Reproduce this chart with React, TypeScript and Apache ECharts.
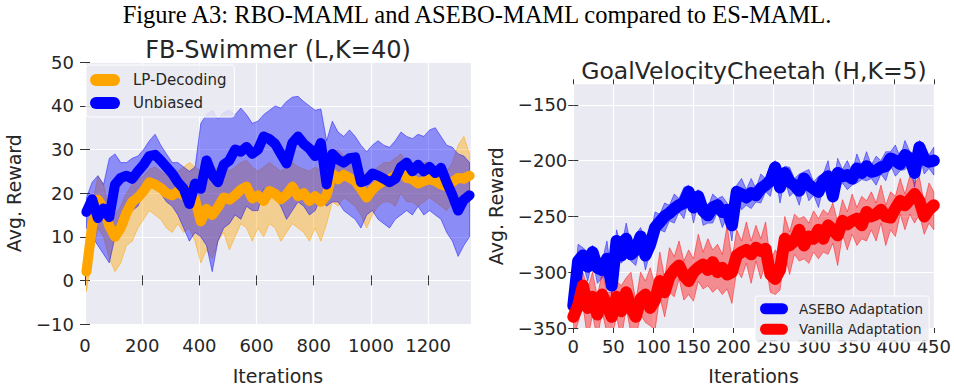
import React, { useEffect, useRef } from 'react';
import * as echarts from 'echarts';

// ---------- FB-Swimmer (L,K=40) ----------
// sampling grid of iterations (every 20 iterations starting at 5)
const swimIterations: number[] = [
  5, 25, 45, 65, 85, 105, 125, 145, 165, 185, 205, 225, 245, 265, 285, 305, 325, 345, 365, 385,
  405, 425, 445, 465, 485, 505, 525, 545, 565, 585, 605, 625, 645, 665, 685, 705, 725, 745, 765, 785,
  805, 825, 845, 865, 885, 905, 925, 945, 965, 985, 1005, 1025, 1045, 1065, 1085, 1105, 1125, 1145, 1165, 1185,
  1205, 1225, 1245, 1265, 1285, 1305, 1325, 1345,
];
const unbiasedMean: number[] = [
  15.7, 18.6, 14.3, 16.5, 14.5, 22, 23.5, 24, 23.3, 25,
  26.5, 28.5, 28.8, 27.5, 26, 24.5, 22.5, 21, 17.5, 22.2,
  21, 27.5, 24.2, 22.5, 26.5, 27.5, 30, 29.5, 30.6, 29,
  30, 33, 32.4, 31.3, 29, 26.8, 31.5, 33, 31.3, 30.2,
  28.5, 31.5, 22, 29, 27.7, 27, 28, 28.2, 22.5, 23,
  24.5, 24, 23.3, 22.5, 23.3, 26, 27, 25, 26.5, 25,
  26, 24.6, 25.8, 22.5, 19.5, 16, 18.5, 19.5,
];
const unbiasedUpper: number[] = [
  19, 22.5, 24, 22, 28, 29, 27, 27, 28, 28.5,
  30, 32, 33.5, 31, 29, 27, 27, 26, 25, 26,
  36, 38, 39, 37, 38.5, 39, 38, 39.5, 38, 36,
  36.5, 38, 39, 40, 39.5, 41, 42, 42.2, 41, 40,
  39, 39.3, 32, 36.5, 34, 33, 34.5, 33, 31, 29.5,
  31, 32, 31, 30.5, 32, 34, 33, 32.5, 33.5, 33,
  34.5, 35, 33, 31, 30.5, 29, 28.5, 27,
];
const unbiasedLower: number[] = [
  12, 10, 8, 6, 4, 10, 13, 15, 16, 17,
  20, 21, 22, 20, 18, 17, 15, 12, 9, 11,
  10, 8, 2, 9, 12, 13, 15, 14, 17, 16,
  16, 21, 20, 19, 17, 14, 16, 18, 17, 15,
  16, 19, 17, 18, 18, 16, 15, 14, 12, 15,
  16, 14, 13, 12, 14, 15, 16, 15, 17, 15,
  16, 15, 14, 11, 9, 5.5, 8, 10,
];
const lpMean: number[] = [
  2, 12.5, 18.5, 16.5, 12.5, 10, 12, 15.5, 18, 19,
  20.5, 22.5, 22, 21.2, 20, 19.5, 20.4, 19.5, 20.5, 18.5,
  13.5, 16.4, 15, 16.8, 19, 18.5, 19.5, 20.8, 21.5, 18.8,
  19.5, 18.2, 20.5, 19.8, 18.6, 19.7, 21.5, 19.3, 20, 18.2,
  19.3, 18, 19.5, 24.5, 23.2, 24.2, 23.5, 22.8, 21, 19,
  20.8, 22, 22.8, 23.2, 24, 25.5, 23.5, 23.2, 22.2, 22.8,
  23.2, 22.8, 22, 21.5, 22.6, 23.5, 23.3, 24,
];
const lpUpper: number[] = [
  6, 17, 24, 22, 16, 15, 17, 20, 22, 23,
  24, 25.5, 26, 25, 24, 23.5, 25, 26, 27, 26,
  25, 26, 25, 26, 27, 25, 26, 27, 27.5, 26,
  25, 26, 27, 26, 25, 26, 27, 26, 25.5, 25,
  26, 25, 26, 29, 30, 28.5, 29, 28, 25, 24,
  25, 26, 27, 27, 28, 29, 27, 26.5, 26, 27,
  27, 26, 25.5, 25, 27, 31, 33, 29,
];
const lpLower: number[] = [
  -2.5, 6, 12, 10, 5, 2, 4, 8, 9, 12,
  14, 16, 15, 14, 12, 11, 13, 11, 12, 9,
  4, 7, 5, 9, 11, 7, 10, 13, 12, 9,
  12, 10, 13, 12, 9, 11, 13, 12, 11, 9,
  12, 9, 13, 18, 17, 19, 18, 17, 15, 12,
  15, 17, 18, 18, 17, 20, 18, 18, 17, 18,
  19, 18, 17, 16, 18, 16, 17, 18,
];
const swimXTicks: number[] = [0, 200, 400, 600, 800, 1000, 1200];

// ---------- GoalVelocityCheetah (H,K=5) ----------
const cheetahIterations: number[] = [
  0, 6, 12, 18, 24, 30, 36, 42, 48, 54, 60, 66, 72, 78, 84, 90, 96, 102, 108, 114,
  120, 126, 132, 138, 144, 150, 156, 162, 168, 174, 180, 186, 192, 198, 204, 210, 216, 222, 228, 234,
  240, 246, 252, 258, 264, 270, 276, 282, 288, 294, 300, 306, 312, 318, 324, 330, 336, 342, 348, 354,
  360, 366, 372, 378, 384, 390, 396, 402, 408, 414, 420, 426, 432, 438, 444, 450,
];
const aseboMean: number[] = [
  -330, -290, -285, -295, -282, -296, -298, -288, -312, -272,
  -285, -270, -284, -280, -268, -285, -275, -260, -255, -250,
  -247, -243, -240, -238, -228, -242, -232, -245, -249, -242,
  -240, -246, -244, -258, -228, -230, -233, -229, -231, -225,
  -222, -218, -206, -224, -211, -219, -222, -227, -216, -222,
  -225, -228, -218, -214, -232, -211, -214, -213, -216, -207,
  -211, -205, -210, -209, -206, -205, -198, -200, -203, -195,
  -198, -211, -188, -199, -201, -200,
];
const aseboUpper: number[] = [
  -318, -275, -278, -282, -276, -283, -290, -272, -304, -262,
  -278, -256, -276, -266, -260, -272, -268, -246, -248, -238,
  -240, -230, -234, -224, -222, -230, -226, -232, -242, -230,
  -234, -232, -238, -244, -222, -216, -226, -216, -225, -212,
  -216, -205, -200, -210, -205, -206, -216, -212, -210, -208,
  -219, -214, -212, -200, -225, -198, -208, -200, -210, -194,
  -205, -192, -204, -196, -200, -192, -192, -186, -197, -182,
  -192, -198, -182, -186, -195, -188,
];
const aseboLower: number[] = [
  -342, -302, -292, -308, -288, -310, -305, -302, -320, -286,
  -292, -284, -290, -294, -274, -298, -282, -274, -262, -264,
  -254, -256, -246, -252, -234, -256, -238, -258, -256, -256,
  -246, -260, -250, -272, -234, -244, -240, -243, -237, -238,
  -228, -232, -212, -238, -217, -232, -228, -240, -222, -236,
  -231, -242, -224, -228, -238, -225, -220, -226, -222, -220,
  -217, -218, -216, -222, -212, -218, -204, -214, -209, -208,
  -204, -224, -194, -212, -207, -213,
];
const vanillaMean: number[] = [
  -340, -330, -312, -332, -322, -338, -320, -330, -340, -322,
  -335, -318, -332, -340, -324, -320, -332, -325, -308, -318,
  -304, -298, -294, -303, -308, -300, -296, -293, -298, -291,
  -300, -296, -302, -300, -285, -282, -280, -284, -278, -281,
  -279, -302, -306, -298, -270, -276, -272, -262, -276, -268,
  -270, -262, -270, -258, -262, -267, -254, -257, -254, -252,
  -258, -246, -250, -248, -244, -250, -251, -243, -236, -240,
  -235, -230, -236, -250, -244, -240,
];
const vanillaUpper: number[] = [
  -325, -305, -300, -315, -300, -322, -300, -318, -318, -308,
  -312, -305, -300, -326, -300, -308, -296, -312, -282, -305,
  -278, -286, -272, -290, -280, -288, -266, -282, -270, -280,
  -275, -284, -258, -288, -262, -272, -255, -272, -258, -270,
  -255, -290, -280, -286, -250, -264, -248, -252, -250, -256,
  -245, -252, -244, -248, -238, -255, -235, -246, -230, -242,
  -232, -236, -228, -238, -222, -240, -228, -232, -216, -230,
  -214, -220, -215, -238, -220, -228,
];
const vanillaLower: number[] = [
  -358, -345, -330, -360, -338, -360, -335, -355, -358, -340,
  -360, -332, -355, -360, -338, -345, -348, -352, -322, -340,
  -318, -322, -306, -325, -320, -326, -308, -315, -312, -318,
  -314, -320, -315, -328, -298, -305, -292, -310, -290, -306,
  -292, -318, -320, -316, -284, -302, -284, -290, -288, -292,
  -282, -288, -282, -284, -274, -294, -266, -280, -266, -276,
  -270, -272, -262, -272, -256, -276, -262, -268, -248, -262,
  -248, -256, -248, -266, -256, -262,
];
const cheetahYTicks: number[] = [-350, -300, -250, -200, -150];

const TEXT = '#262626';
const FONT = 'DejaVu Sans';
const PILL = 'path://M6,0L24,0A6,6,0,0,1,24,12L6,12A6,6,0,0,1,6,0Z';

const pairs = (xs: number[], ys: number[]) => xs.map((x, i) => [x, ys[i]]);
const fmt = (v: number) => (v < 0 ? '\u2212' + Math.abs(v) : String(v));

function bandSeries(name: string, xs: number[], lo: number[], hi: number[], fill: string, stroke: string, xi: number, yi: number) {
  return {
    name: name + ' band', type: 'custom', xAxisIndex: xi, yAxisIndex: yi, clip: true, silent: true,
    data: xs.map((x, i) => [x, lo[i], hi[i]]),
    encode: { x: 0, y: [1, 2] },
    renderItem: (params: any, api: any) => {
      if (params.dataIndex !== 0) return null;
      const pts: number[][] = [];
      for (let i = 0; i < xs.length; i++) pts.push(api.coord([xs[i], lo[i]]));
      for (let i = xs.length - 1; i >= 0; i--) pts.push(api.coord([xs[i], hi[i]]));
      return {
        type: 'polygon', shape: { points: pts },
        style: { fill, stroke, lineWidth: 1, lineJoin: 'round' },
      };
    },
  };
}

function meanSeries(name: string, xs: number[], ys: number[], color: string, xi: number, yi: number, width: number) {
  return {
    name, type: 'line', xAxisIndex: xi, yAxisIndex: yi, data: pairs(xs, ys), showSymbol: false, symbol: 'none',
    color, itemStyle: { color },
    lineStyle: { width, color, cap: 'round', join: 'round' }, silent: true,
  };
}

const tick = { show: true, length: 5, inside: false, lineStyle: { color: '#333', width: 1 } };
const label = (margin: number, extra: any = {}) => ({
  show: true, color: TEXT, fontFamily: FONT, fontSize: 18, margin, formatter: fmt, ...extra,
});
const split = { show: true, lineStyle: { color: '#ffffff', width: 1.2 } };
const nameStyle = { color: TEXT, fontFamily: FONT, fontSize: 19 };

export default function App() {
  const ref = useRef<HTMLDivElement>(null);
  useEffect(() => {
    if (!ref.current) return;
    const chart = echarts.init(ref.current, undefined, { renderer: 'svg' });
    const grids = [
      { left: 85, top: 62.3, width: 386, height: 276, show: true, backgroundColor: '#EAEAF2', borderWidth: 0 },
      { left: 573.3, top: 84.3, width: 362.4, height: 258, show: true, backgroundColor: '#EAEAF2', borderWidth: 0 },
    ];
    const option: any = {
      animation: false,
      grid: grids,
      xAxis: [
        {
          gridIndex: 0, type: 'value', position: 'bottom', min: 0, max: 1350, interval: 200,
          axisLine: { show: false }, axisTick: { ...tick, customValues: swimXTicks },
          axisLabel: label(12, { customValues: swimXTicks }), splitLine: split,
          name: 'Iterations', nameLocation: 'middle', nameGap: 42, nameTextStyle: nameStyle,
        },
        {
          gridIndex: 0, type: 'value', position: 'top', min: 0, max: 1350, interval: 200,
          axisLine: { show: false }, axisTick: { ...tick, customValues: swimXTicks },
          axisLabel: { show: false }, splitLine: { show: false },
        },
        {
          gridIndex: 1, type: 'value', position: 'bottom', min: 0, max: 450, interval: 50,
          axisLine: { show: false }, axisTick: tick, axisLabel: label(9), splitLine: split,
          name: 'Iterations', nameLocation: 'middle', nameGap: 38, nameTextStyle: nameStyle,
        },
        {
          gridIndex: 1, type: 'value', position: 'top', min: 0, max: 450, interval: 50,
          axisLine: { show: false }, axisTick: tick, axisLabel: { show: false }, splitLine: { show: false },
        },
      ],
      yAxis: [
        {
          gridIndex: 0, type: 'value', position: 'left', min: -10, max: 50, interval: 10,
          axisLine: { show: false }, axisTick: tick, axisLabel: label(11), splitLine: split,
          name: 'Avg. Reward', nameLocation: 'middle', nameGap: 62, nameRotate: 90, nameTextStyle: nameStyle,
        },
        {
          gridIndex: 0, type: 'value', position: 'right', min: -10, max: 50, interval: 10,
          axisLine: { show: false }, axisTick: tick, axisLabel: { show: false }, splitLine: { show: false },
        },
        {
          gridIndex: 1, type: 'value', position: 'left', min: -350, max: -131.6, interval: 50,
          axisLine: { show: false }, axisTick: { ...tick, customValues: cheetahYTicks },
          axisLabel: label(6, { customValues: cheetahYTicks }), splitLine: split,
          name: 'Avg. Reward', nameLocation: 'middle', nameGap: 68, nameRotate: 90, nameTextStyle: nameStyle,
        },
        {
          gridIndex: 1, type: 'value', position: 'right', min: -350, max: -131.6, interval: 50,
          axisLine: { show: false }, axisTick: { ...tick, customValues: cheetahYTicks },
          axisLabel: { show: false }, splitLine: { show: false },
        },
      ],
      legend: [
        {
          data: ['LP-Decoding', 'Unbiased'], orient: 'vertical', left: 86, top: 65,
          icon: PILL, itemWidth: 30, itemHeight: 12, itemGap: 7,
          padding: [7, 8, 6, 4], backgroundColor: 'rgba(234,234,242,0.85)', borderColor: '#ffffff', borderWidth: 1,
          borderRadius: 3,
          textStyle: { color: TEXT, fontFamily: FONT, fontSize: 15, lineHeight: 16, padding: [0, 0, 0, 8] },
          selectedMode: false,
        },
        {
          data: ['ASEBO Adaptation', 'Vanilla Adaptation'], orient: 'vertical', left: 755, top: 296,
          icon: PILL, itemWidth: 28, itemHeight: 12, itemGap: 5,
          padding: [5, 6, 5, 5], backgroundColor: 'rgba(234,234,242,0.85)', borderColor: '#ffffff', borderWidth: 1,
          borderRadius: 3,
          textStyle: { color: TEXT, fontFamily: FONT, fontSize: 13.5, lineHeight: 15.5, padding: [0, 0, 0, 6] },
          selectedMode: false,
        },
      ],
      graphic: [
        {
          type: 'text', x: 477, y: 14,
          style: {
            text: 'Figure A3: RBO-MAML and ASEBO-MAML compared to ES-MAML.', fill: '#000',
            font: '24.5px "Liberation Serif"', textAlign: 'center', textVerticalAlign: 'middle',
          },
        },
        {
          type: 'text', x: 278, y: 50,
          style: { text: 'FB-Swimmer (L,K=40)', fill: TEXT, font: '24px "DejaVu Sans"', textAlign: 'center', textVerticalAlign: 'middle' },
        },
        {
          type: 'text', x: 754, y: 71,
          style: { text: 'GoalVelocityCheetah (H,K=5)', fill: TEXT, font: '23.5px "DejaVu Sans"', textAlign: 'center', textVerticalAlign: 'middle' },
        },
      ],
      series: [
        bandSeries('LP-Decoding', swimIterations, lpLower, lpUpper, 'rgba(255,165,0,0.4)', 'rgba(255,165,0,0.5)', 0, 0),
        bandSeries('Unbiased', swimIterations, unbiasedLower, unbiasedUpper, 'rgba(0,0,255,0.4)', 'rgba(0,0,255,0.45)', 0, 0),
        meanSeries('LP-Decoding', swimIterations, lpMean, '#FFA500', 0, 0, 10),
        meanSeries('Unbiased', swimIterations, unbiasedMean, '#0000FF', 0, 0, 10),
        bandSeries('ASEBO Adaptation', cheetahIterations, aseboLower, aseboUpper, 'rgba(0,0,255,0.4)', 'rgba(0,0,255,0.45)', 2, 2),
        meanSeries('ASEBO Adaptation', cheetahIterations, aseboMean, '#0000FF', 2, 2, 12),
        bandSeries('Vanilla Adaptation', cheetahIterations, vanillaLower, vanillaUpper, 'rgba(255,0,0,0.4)', 'rgba(255,0,0,0.45)', 2, 2),
        meanSeries('Vanilla Adaptation', cheetahIterations, vanillaMean, '#FF0000', 2, 2, 12),
      ],
    };
    chart.setOption(option);
    return () => chart.dispose();
  }, []);
  return (
    <div
      ref={ref}
      style={{ position: 'absolute', left: 0, top: 0, width: 954, height: 390, background: '#fff' }}
    />
  );
}
